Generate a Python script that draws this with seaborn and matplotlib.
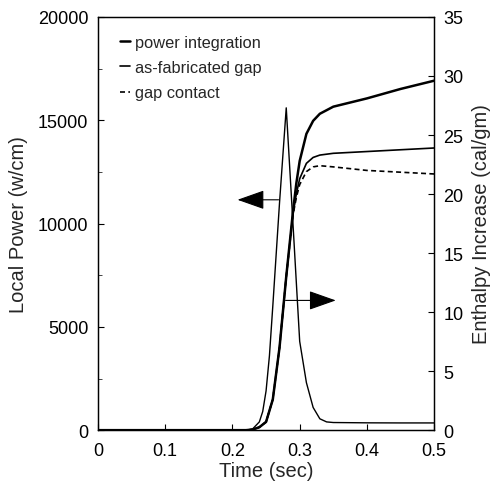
import matplotlib
matplotlib.use("Agg")
import matplotlib.pyplot as plt
import seaborn as sns
import pandas as pd
from matplotlib.ticker import MultipleLocator

# ---- data ----
time_power = [0.0, 0.20, 0.22, 0.23, 0.24, 0.245, 0.25, 0.255, 0.26, 0.27, 0.28,
              0.29, 0.30, 0.31, 0.32, 0.33, 0.34, 0.35, 0.40, 0.45, 0.50]
local_power = [0, 0, 0, 60, 400, 900, 1900, 3600, 6000, 11000, 15600,
               10000, 4300, 2300, 1100, 550, 400, 370, 355, 350, 350]

time_enth = [0.0, 0.22, 0.23, 0.24, 0.25, 0.26, 0.27, 0.28, 0.29, 0.295, 0.30,
             0.31, 0.32, 0.33, 0.35, 0.40, 0.45, 0.50]
power_integration = [0, 0, 0.05, 0.25, 0.7, 2.6, 7.0, 13.0, 18.5, 20.9, 22.8,
                     25.1, 26.2, 26.8, 27.4, 28.1, 28.9, 29.6]
as_fabricated_gap = [0, 0, 0.05, 0.25, 0.7, 2.6, 7.0, 13.0, 18.3, 20.0, 21.3,
                     22.6, 23.1, 23.3, 23.45, 23.6, 23.75, 23.9]
gap_contact = [0, 0, 0.05, 0.25, 0.7, 2.6, 7.0, 13.0, 18.2, 19.7, 20.8,
               21.9, 22.3, 22.4, 22.3, 22.0, 21.85, 21.7]

x_ticks = [0, 0.1, 0.2, 0.3, 0.4, 0.5]
x_tick_labels = ["0", "0.1", "0.2", "0.3", "0.4", "0.5"]
left_ticks = [0, 5000, 10000, 15000, 20000]
right_ticks = [0, 5, 10, 15, 20, 25, 30, 35]

sns.set_style("ticks")
plt.rcParams['font.family'] = ['Liberation Sans', 'DejaVu Sans']

fig = plt.figure(figsize=(4.9, 4.85), dpi=100)
ax = fig.add_axes([0.2, 0.111, 0.686, 0.852])
ax2 = ax.twinx()

df_p = pd.DataFrame({"t": time_power, "p": local_power})
sns.lineplot(data=df_p, x="t", y="p", ax=ax, color="black", lw=1.0)

df_e = pd.DataFrame({"t": time_enth, "pi": power_integration,
                     "af": as_fabricated_gap, "gc": gap_contact})
sns.lineplot(data=df_e, x="t", y="pi", ax=ax2, color="black", lw=1.8,
             label="power integration")
sns.lineplot(data=df_e, x="t", y="af", ax=ax2, color="black", lw=1.2,
             label="as-fabricated gap")
sns.lineplot(data=df_e, x="t", y="gc", ax=ax2, color="black", lw=1.2,
             linestyle=(0, (3, 2)), label="gap contact")

ax.set_xlim(0, 0.5)
ax.set_ylim(0, 20000)
ax2.set_ylim(0, 35)
ax.set_xticks(x_ticks)
ax.set_xticklabels(x_tick_labels)
ax.set_yticks(left_ticks)
ax.yaxis.set_minor_locator(MultipleLocator(2500))
ax2.set_yticks(right_ticks)

for a in (ax, ax2):
    a.tick_params(direction="in", labelsize=13, length=4, width=0.8,
                  colors="black")
    a.tick_params(which="minor", direction="in", length=3, width=0.6)
    for s in a.spines.values():
        s.set_linewidth(0.9)
        s.set_color("black")
ax.tick_params(axis="x", pad=8.5)
ax.tick_params(axis="y", pad=7)
ax2.tick_params(axis="y", pad=6.5)

ax.set_xlabel("Time (sec)", fontsize=14.5, labelpad=1.5)
ax.set_ylabel("Local Power (w/cm)", fontsize=14.5, labelpad=7)
ax2.set_ylabel("Enthalpy Increase (cal/gm)", fontsize=14.5, labelpad=6)

leg = ax2.legend(loc="upper left", bbox_to_anchor=(0.045, 0.972), frameon=False,
                 fontsize=11.8, handlelength=0.6, handletextpad=0.35,
                 labelspacing=0.62, borderaxespad=0)

# direction arrows
ax.annotate("", xy=(0.2075, 11150), xytext=(0.2687, 11150),
            arrowprops=dict(arrowstyle="-|>,head_length=0.85,head_width=0.3",
                            mutation_scale=20, color="black", lw=0.8,
                            shrinkA=0, shrinkB=0))
ax.annotate("", xy=(0.3537, 6280), xytext=(0.279, 6280),
            arrowprops=dict(arrowstyle="-|>,head_length=0.85,head_width=0.3",
                            mutation_scale=20, color="black", lw=0.8,
                            shrinkA=0, shrinkB=0))

fig.savefig("out.png", dpi=100)
